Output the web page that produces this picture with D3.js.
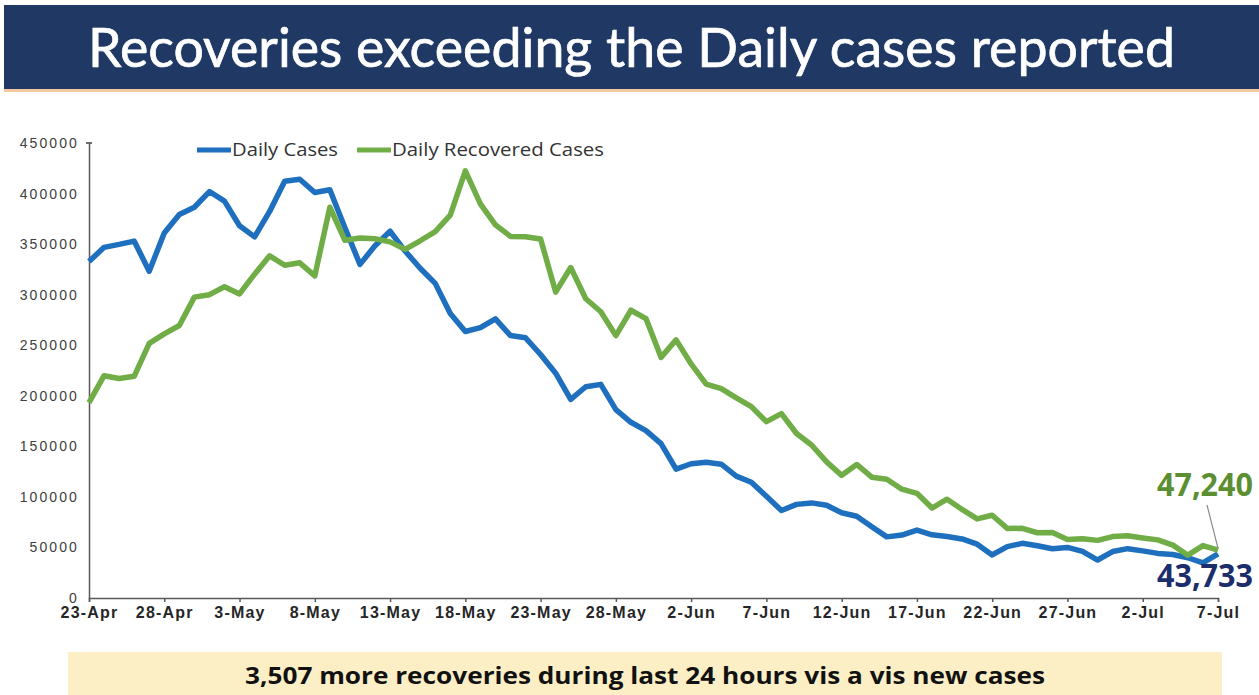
<!DOCTYPE html>
<html lang="en">
<head>
    <meta charset="UTF-8">
    <title>Recoveries exceeding the Daily cases reported</title>
    <script src="https://d3js.org/d3.v7.min.js"></script>
    <style>
        body { margin: 0; background: #fff; }
        svg { display: block; }
    </style>
</head>
<body>
    <svg id="chart" width="1259" height="695"></svg>

    <script>
        // Daily values, 23-Apr to 7-Jul (76 days)
        const startDate = '2021-04-23';
        const endDate = '2021-07-07';

        const dailyCases = [
            332730, 346786, 349691, 352991, 323144, 360960, 379257, 386452,
            401993, 392488, 368147, 357229, 382315, 412262, 414188, 401078,
            403738, 366161, 329942, 348421, 362727, 343144, 326098, 311170,
            281386, 263533, 267334, 276110, 259551, 257299, 240842, 222315,
            196427, 208921, 211298, 186364, 173790, 165553, 152734,
            127510, 132788, 134154, 132364, 120529, 114460, 100636, 86498,
            92596, 94052, 91702, 84332, 80834, 70421, 60471, 62224,
            67208, 62480, 60753, 58419, 53256, 42640, 50848, 54069,
            51667, 48698, 50040, 46148, 37566, 45951,
            48786, 46617, 44111, 43071, 39796, 34703, 43733
        ];

        const dailyRecovered = [
            193279, 219838, 217113, 219272, 251827, 261162, 269507, 297540,
            299988, 307865, 300732, 320289, 338439, 329113, 331507, 318609,
            386444, 353818, 356082, 355338, 352181, 344776, 353299, 362437,
            378741, 422436, 389851, 369077, 357630, 357295, 355102, 302544,
            326850, 295955, 283135, 259459, 284601, 276309, 238022,
            255287, 231456, 211499, 207071, 197894, 189232, 174399, 182282,
            162664, 151367, 134580, 121311, 132062, 119501, 117525, 107628,
            103570, 88977, 97743, 87619, 78190, 81839, 68817, 68885,
            64527, 64818, 57944, 58578, 56994, 60729,
            61588, 59384, 57477, 52299, 42352, 51864, 47240
        ];

        const tickLabels = ['23-Apr', '28-Apr', '3-May', '8-May', '13-May', '18-May', '23-May', '28-May',
                            '2-Jun', '7-Jun', '12-Jun', '17-Jun', '22-Jun', '27-Jun', '2-Jul', '7-Jul'];
        const yTicks = [0, 50000, 100000, 150000, 200000, 250000, 300000, 350000, 400000, 450000];

        const seriesNames = ['Daily Cases', 'Daily Recovered Cases'];
        const seriesColors = ['#1f6fbf', '#70ad47'];

        const parse = d3.timeParse('%Y-%m-%d');
        const dates = d3.timeDay.range(parse(startDate), d3.timeDay.offset(parse(endDate), 1));
        const labelParse = d3.timeParse('%d-%b-%Y');
        const tickDates = tickLabels.map(t => labelParse(t + '-2021'));

        const svg = d3.select('#chart');

        // title banner
        svg.append('rect').attr('x', 4).attr('y', 5).attr('width', 1255).attr('height', 84).attr('fill', '#1f3864');
        svg.append('rect').attr('x', 4).attr('y', 89).attr('width', 1255).attr('height', 3).attr('fill', '#f4c9a0');
        svg.append('text')
            .attr('x', 88).attr('y', 67)
            .attr('textLength', 1087).attr('lengthAdjust', 'spacingAndGlyphs')
            .attr('fill', '#fff')
            .attr('stroke', '#fff').attr('stroke-width', 0.7)
            .style('font-family', 'Lato, "Open Sans", sans-serif')
            .style('font-size', '55px')
            .text('Recoveries exceeding the Daily cases reported');

        const x = d3.scaleTime().domain([parse(startDate), parse(endDate)]).range([89, 1218]);
        const y = d3.scaleLinear().domain([0, 450000]).range([598, 143]);

        // y axis
        const yAxis = svg.append('g')
            .attr('transform', 'translate(89,0)')
            .call(d3.axisLeft(y).tickValues(yTicks).tickSize(0).tickPadding(10).tickFormat(d3.format('d')));
        yAxis.select('.domain').attr('stroke', '#595959').attr('stroke-width', 1.5);
        yAxis.selectAll('text')
            .attr('fill', '#404040')
            .style('font-family', '"Liberation Sans", Arial, sans-serif')
            .style('font-size', '14px')
            .style('letter-spacing', '2.1px');
        svg.append('line').attr('x1', 86).attr('x2', 92).attr('y1', 143).attr('y2', 143)
            .attr('stroke', '#404040').attr('stroke-width', 1.5);

        // x axis
        const xAxis = svg.append('g')
            .attr('transform', 'translate(0,598)')
            .call(d3.axisBottom(x).tickValues(tickDates).tickSize(4).tickPadding(5)
                .tickFormat((d, i) => tickLabels[i]));
        xAxis.select('.domain').attr('stroke', '#595959').attr('stroke-width', 1.5);
        xAxis.selectAll('.tick line').attr('stroke', '#595959').attr('stroke-width', 1.5);
        xAxis.selectAll('text')
            .attr('fill', '#262626')
            .style('font-family', '"Liberation Sans", Arial, sans-serif')
            .style('font-weight', 'bold')
            .style('font-size', '16px')
            .style('letter-spacing', '1.2px');

        // lines
        const line = d3.line().x((d, i) => x(dates[i])).y(d => y(d)).curve(d3.curveLinear);
        [dailyCases, dailyRecovered].forEach((values, k) => {
            svg.append('path')
                .datum(values)
                .attr('fill', 'none')
                .attr('stroke', seriesColors[k])
                .attr('stroke-width', 5.5)
                .attr('stroke-linejoin', 'round')
                .attr('d', line);
        });

        // legend
        const legendX = [197, 357];
        const legendTextW = [106, 212];
        seriesNames.forEach((name, k) => {
            const g = svg.append('g').attr('transform', `translate(${legendX[k]},150)`);
            g.append('line').attr('x1', 0).attr('x2', 34).attr('y1', 0).attr('y2', 0)
                .attr('stroke', seriesColors[k]).attr('stroke-width', 5);
            g.append('text')
                .attr('x', 35).attr('y', 6)
                .attr('textLength', legendTextW[k]).attr('lengthAdjust', 'spacingAndGlyphs')
                .attr('fill', '#333')
                .style('font-family', '"Open Sans", sans-serif')
                .style('font-size', '18px')
                .text(name);
        });

        // end labels
        const last = dates.length - 1;
        svg.append('line')
            .attr('x1', 1207).attr('y1', 505)
            .attr('x2', x(dates[last])).attr('y2', y(dailyRecovered[last]) - 2)
            .attr('stroke', '#8c8c8c').attr('stroke-width', 1.2);
        svg.append('text')
            .attr('x', 1157).attr('y', 496)
            .attr('textLength', 96).attr('lengthAdjust', 'spacingAndGlyphs')
            .attr('fill', '#5b8f32')
            .style('font-family', '"Open Sans", sans-serif').style('font-weight', 'bold').style('font-size', '32px')
            .text(d3.format(',')(dailyRecovered[last]));
        svg.append('text')
            .attr('x', 1157).attr('y', 587)
            .attr('textLength', 96).attr('lengthAdjust', 'spacingAndGlyphs')
            .attr('fill', '#1c2d6b')
            .style('font-family', '"Open Sans", sans-serif').style('font-weight', 'bold').style('font-size', '32px')
            .text(d3.format(',')(dailyCases[last]));

        // bottom note
        const diff = dailyRecovered[last] - dailyCases[last];
        svg.append('rect').attr('x', 68).attr('y', 652).attr('width', 1154).attr('height', 43).attr('fill', '#fcefc6');
        svg.append('text')
            .attr('x', 645).attr('y', 684).attr('text-anchor', 'middle')
            .attr('textLength', 800).attr('lengthAdjust', 'spacingAndGlyphs')
            .attr('fill', '#111')
            .style('font-family', '"Open Sans", sans-serif').style('font-weight', 'bold').style('font-size', '23px')
            .text(d3.format(',')(diff) + ' more recoveries during last 24 hours vis a vis new cases');
    </script>
</body>
</html>
